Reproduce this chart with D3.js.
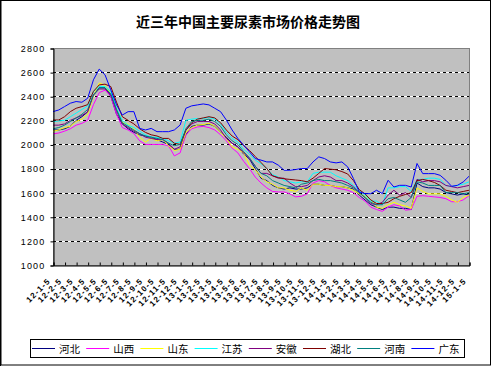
<!DOCTYPE html>
<html>
<head>
<meta charset="utf-8">
<script src="https://cdn.jsdelivr.net/npm/d3@7"></script>
<style>
  body { margin: 0; background: #fff; }
  svg { display: block; }
</style>
</head>
<body>
<svg></svg>
<script>
// half-month steps from 12-1 to 15-1 (73 points per series)
var monthLabels = ['12-1-5','12-2-5','12-3-5','12-4-5','12-5-5','12-6-5','12-7-5','12-8-5','12-9-5','12-10-5','12-11-5','12-12-5',
  '13-1-5','13-2-5','13-3-5','13-4-5','13-5-5','13-6-5','13-7-5','13-8-5','13-9-5','13-10-5','13-11-5','13-12-5',
  '14-1-5','14-2-5','14-3-5','14-4-5','14-5-5','14-6-5','14-7-5','14-8-5','14-9-5','14-10-5','14-11-5','14-12-5',
  '15-1-5'];

var seriesNames = ['河北', '山西', '山东', '江苏', '安徽', '湖北', '河南', '广东'];
var seriesColors = ['#000080', '#ff00ff', '#ffff00', '#00ffff', '#800080', '#800000', '#008080', '#0000ff'];

var hebei = [2120,2120,2130,2150,2200,2230,2270,2410,2470,2470,2400,2250,2170,2130,2100,2080,2070,2060,2040,2020,2000,1960,1960,2080,2150,2160,2160,2170,2150,2100,2060,2010,1980,1920,1880,1800,1720,1700,1660,1640,1630,1640,1630,1630,1640,1670,1670,1660,1660,1650,1650,1640,1630,1580,1540,1500,1480,1460,1480,1480,1470,1470,1460,1680,1650,1640,1640,1630,1600,1590,1580,1590,1580];
var shanxi = [2087,2095,2110,2130,2160,2175,2200,2330,2430,2450,2400,2250,2140,2120,2090,2030,2000,2000,2000,2000,1990,1905,1930,2080,2130,2145,2150,2140,2120,2080,2030,1970,1930,1860,1800,1730,1680,1640,1610,1606,1606,1590,1565,1570,1590,1680,1700,1690,1660,1640,1630,1620,1600,1560,1530,1480,1460,1445,1480,1500,1490,1455,1460,1570,1575,1570,1565,1560,1550,1525,1525,1540,1575];
var shandong = [2110,2120,2140,2150,2190,2210,2250,2400,2510,2490,2420,2300,2180,2170,2130,2060,2020,2050,2030,2040,1990,1950,1960,2100,2140,2160,2165,2175,2150,2100,2050,1980,1960,1930,1830,1790,1730,1690,1670,1640,1640,1620,1610,1640,1620,1670,1670,1660,1660,1650,1650,1640,1620,1590,1570,1540,1480,1470,1500,1520,1500,1490,1470,1640,1610,1590,1590,1590,1570,1540,1520,1560,1580];
var jiangsu = [2190,2195,2200,2230,2260,2290,2320,2440,2480,2480,2440,2300,2200,2160,2140,2110,2080,2060,2060,2050,2030,2010,2020,2200,2210,2215,2215,2225,2210,2170,2100,2050,2020,1960,1920,1870,1840,1800,1750,1730,1700,1690,1680,1690,1690,1760,1770,1770,1770,1740,1720,1700,1660,1620,1580,1530,1530,1500,1640,1640,1650,1650,1610,1710,1710,1720,1720,1710,1660,1650,1660,1670,1690];
var anhui = [2160,2160,2170,2200,2220,2240,2270,2410,2460,2460,2410,2280,2170,2140,2110,2090,2060,2050,2040,2040,2010,1960,1980,2120,2170,2190,2190,2190,2170,2120,2050,2010,1980,1930,1880,1820,1760,1760,1740,1720,1720,1680,1650,1650,1660,1700,1730,1740,1730,1700,1700,1680,1650,1600,1560,1510,1500,1520,1580,1620,1580,1600,1560,1710,1690,1700,1700,1690,1660,1650,1640,1650,1660];
var hubei = [2203,2203,2230,2272,2300,2314,2330,2440,2494,2500,2480,2350,2230,2200,2170,2130,2100,2080,2070,2050,2050,2010,2000,2120,2180,2210,2220,2230,2220,2180,2120,2070,2040,1990,1950,1900,1850,1800,1740,1725,1715,1710,1705,1700,1690,1720,1760,1800,1795,1790,1775,1755,1700,1625,1590,1540,1510,1510,1520,1550,1570,1585,1600,1700,1710,1700,1685,1660,1620,1610,1600,1610,1620];
var henan = [2130,2140,2160,2190,2220,2250,2290,2410,2470,2470,2420,2290,2180,2150,2120,2090,2070,2060,2050,2040,2010,1990,2000,2130,2190,2200,2200,2210,2190,2150,2080,2030,2000,1940,1890,1820,1760,1740,1700,1680,1660,1650,1640,1670,1680,1700,1710,1700,1700,1690,1680,1660,1640,1600,1560,1520,1500,1500,1550,1560,1540,1520,1560,1690,1680,1660,1660,1660,1600,1600,1600,1590,1600];
var guangdong = [2272,2286,2314,2342,2356,2350,2383,2536,2625,2578,2453,2328,2244,2272,2272,2133,2120,2133,2106,2106,2106,2120,2161,2300,2320,2328,2336,2328,2300,2272,2203,2120,2050,1994,1939,1883,1870,1855,1855,1828,1786,1786,1792,1800,1800,1855,1897,1883,1855,1847,1855,1814,1717,1606,1592,1592,1620,1592,1703,1647,1661,1661,1647,1842,1758,1758,1758,1744,1703,1653,1661,1689,1736];

var yTicks = [1000, 1200, 1400, 1600, 1800, 2000, 2200, 2400, 2600, 2800];

var width = 494;
var height = 366;
var plot = { left: 53, right: 469, top: 48, bottom: 265 };

var allSeries = [hebei, shanxi, shandong, jiangsu, anhui, hubei, henan, guangdong];

var svg = d3.select('svg')
  .attr('width', width)
  .attr('height', height);

// outer frame
svg.append('rect')
  .attr('x', 1).attr('y', 0.5)
  .attr('width', 489.5).attr('height', 364.5)
  .style('fill', '#fff')
  .style('stroke', '#000')
  .style('stroke-width', 1);
svg.append('line')
  .attr('x1', 0.5).attr('x2', 0.5).attr('y1', 0).attr('y2', 366)
  .style('stroke', '#000');

var xScale = d3.scaleLinear()
  .domain([0, monthLabels.length - 1])
  .range([plot.left, plot.right]);

var yScale = d3.scaleLinear()
  .domain([1000, 2800])
  .range([plot.bottom, plot.top]);

// title
svg.append('text')
  .attr('x', 248)
  .attr('y', 27)
  .attr('text-anchor', 'middle')
  .style('font-family', '"Noto Sans CJK SC", sans-serif')
  .style('font-size', '14px')
  .style('font-weight', 'bold')
  .text('近三年中国主要尿素市场价格走势图');

// plot background
svg.append('rect')
  .attr('x', plot.left + 0.5)
  .attr('y', plot.top + 0.5)
  .attr('width', plot.right - plot.left)
  .attr('height', plot.bottom - plot.top)
  .style('fill', '#c0c0c0')
  .style('stroke', '#808080');

// gridlines: white under black dashes
var grid = svg.append('g');
grid.selectAll('line.w')
  .data(yTicks.slice(1, -1))
  .enter()
  .append('line')
    .attr('x1', plot.left).attr('x2', plot.right)
    .attr('y1', d => Math.round(yScale(d)) + 0.5)
    .attr('y2', d => Math.round(yScale(d)) + 0.5)
    .style('stroke', '#fff');
grid.selectAll('line.k')
  .data(yTicks.slice(1, -1))
  .enter()
  .append('line')
    .attr('x1', plot.left).attr('x2', plot.right)
    .attr('y1', d => Math.round(yScale(d)) + 0.5)
    .attr('y2', d => Math.round(yScale(d)) + 0.5)
    .style('stroke', '#000')
    .style('stroke-dasharray', '3,3');

// lines
var line = d3.line()
  .x((d, i) => xScale(i / 2))
  .y(d => yScale(d));

svg.append('g')
  .selectAll('path')
  .data(allSeries)
  .enter()
  .append('path')
    .attr('d', line)
    .style('fill', 'none')
    .style('stroke', (d, i) => seriesColors[i])
    .style('stroke-width', 1);

// y axis
var yAxis = d3.axisLeft(yScale)
  .tickValues(yTicks)
  .tickSize(3)
  .tickFormat(d3.format('d'));

var gy = svg.append('g')
  .attr('transform', 'translate(' + (plot.left + 0.5) + ',0.5)')
  .call(yAxis);
gy.select('.domain').style('stroke', '#000');
gy.selectAll('text')
  .attr('x', -8)
  .style('font-family', 'Arial, "Liberation Sans", sans-serif')
  .style('font-size', '9px')
  .style('letter-spacing', '1.2px')
  .style('fill', '#000');

// x axis, ticks pointing inward
var xAxis = d3.axisBottom(xScale)
  .tickValues(d3.range(monthLabels.length))
  .tickSize(-3)
  .tickFormat(i => monthLabels[i]);

var gx = svg.append('g')
  .attr('transform', 'translate(0.5,' + (plot.bottom + 0.5) + ')')
  .call(xAxis);
gx.select('.domain').style('stroke', '#000');
gx.selectAll('text')
  .style('text-anchor', 'end')
  .style('font-family', 'Arial, "Liberation Sans", sans-serif')
  .style('font-size', '8px')
  .style('font-weight', 'bold')
  .style('letter-spacing', '1.2px')
  .attr('dy', 0)
  .attr('y', 0)
  .attr('transform', 'translate(-3,16) rotate(-45)');

// legend
var legend = svg.append('g');
legend.append('rect')
  .attr('x', 30.5).attr('y', 339.5)
  .attr('width', 434).attr('height', 18)
  .style('fill', '#fff')
  .style('stroke', '#000');

var items = legend.selectAll('g.item')
  .data(seriesNames)
  .enter()
  .append('g')
    .attr('transform', (d, i) => 'translate(' + (31 + i * 54.2) + ',348.5)');
items.append('line')
  .attr('x1', 1).attr('x2', 24)
  .style('stroke', (d, i) => seriesColors[i]);
items.append('text')
  .attr('x', 28)
  .attr('y', 4)
  .style('font-family', '"Noto Sans CJK SC", sans-serif')
  .style('font-size', '10.5px')
  .text(d => d);
</script>
</body>
</html>
